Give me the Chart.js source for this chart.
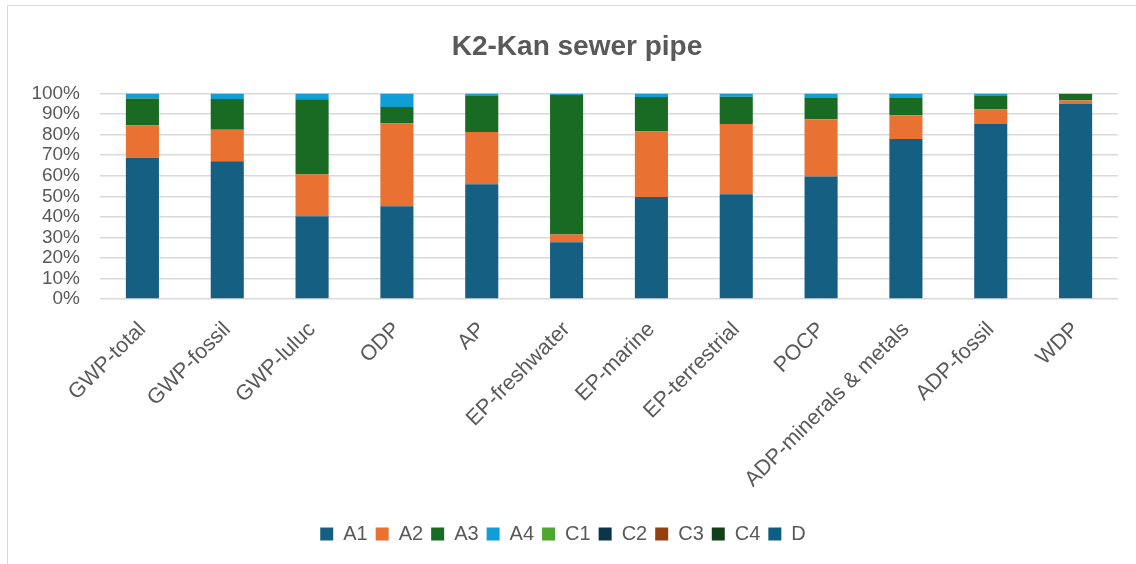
<!DOCTYPE html>
<html>
<head>
<meta charset="utf-8">
<script src="https://cdn.jsdelivr.net/npm/chart.js@4"></script>
<style>
  html, body { margin: 0; padding: 0; background: #fff; overflow: hidden; }
  #wrap { position: relative; width: 1136px; height: 564px; }
  #frame { position: absolute; left: 7px; top: 5px; width: 1200px; height: 700px;
           border: 1.5px solid #d9d9d9; box-sizing: border-box; }
  canvas { position: absolute; left: 0; top: 0; }
</style>
</head>
<body>
<div id="wrap">
  <div id="frame"></div>
  <canvas id="chart" width="1136" height="564"></canvas>
</div>
<script>
// categories and values (share of total, %)
const categories = ['GWP-total', 'GWP-fossil', 'GWP-luluc', 'ODP', 'AP', 'EP-freshwater',
  'EP-marine', 'EP-terrestrial', 'POCP', 'ADP-minerals & metals', 'ADP-fossil', 'WDP'];

const A1 = [68.8, 67.1, 40.3, 45.2, 55.9, 27.6, 49.6, 51.0, 59.7, 77.9, 85.2, 94.9];
const A2 = [15.7, 15.3, 20.3, 40.2, 25.4, 3.8, 32.0, 34.2, 27.8, 11.5, 7.1, 1.7];
const A3 = [13.1, 15.0, 36.6, 8.1, 17.5, 67.9, 16.7, 13.3, 10.4, 8.5, 6.5, 3.2];
const A4 = [2.4, 2.6, 2.8, 6.5, 1.2, 0.7, 1.7, 1.5, 2.1, 2.1, 1.2, 0.2];
const C1 = [0, 0, 0, 0, 0, 0, 0, 0, 0, 0, 0, 0];
const C2 = [0, 0, 0, 0, 0, 0, 0, 0, 0, 0, 0, 0];
const C3 = [0, 0, 0, 0, 0, 0, 0, 0, 0, 0, 0, 0];
const C4 = [0, 0, 0, 0, 0, 0, 0, 0, 0, 0, 0, 0];
const D  = [0, 0, 0, 0, 0, 0, 0, 0, 0, 0, 0, 0];

// y axis: 0% .. 100% every 10%
const yMin = 0, yMax = 100, yStep = 10;

const textColor = '#595959';
const fontFamily = '"Liberation Sans", Arial, sans-serif';

function series(label, data, color) {
  return {
    label: label,
    data: data,
    backgroundColor: color,
    borderWidth: 0,
    barPercentage: 0.39,
    categoryPercentage: 1.0
  };
}

const data = {
  labels: categories,
  datasets: [
    series('A1', A1, '#156082'),
    series('A2', A2, '#E97132'),
    series('A3', A3, '#196B24'),
    series('A4', A4, '#0F9ED5'),
    series('C1', C1, '#4EA72E'),
    series('C2', C2, '#0C354A'),
    series('C3', C3, '#983F10'),
    series('C4', C4, '#0F4016'),
    series('D', D, '#0E5E84')
  ]
};

// title sits a bit right of the legend in the original, nudge it
const titleShift = {
  id: 'titleShift',
  afterLayout: function(chart) {
    const t = chart.titleBlock;
    if (t) { t.left += 14; t.right += 14; }
  }
};

const config = {
  type: 'bar',
  data: data,
  plugins: [titleShift],
  options: {
    responsive: false,
    animation: false,
    layout: { padding: { left: 8, right: 18, top: 0, bottom: 10 } },
    plugins: {
      title: {
        display: true,
        text: 'K2-Kan sewer pipe',
        color: textColor,
        font: { family: fontFamily, size: 28, weight: 'bold' },
        padding: { top: 30, bottom: 30 }
      },
      legend: {
        position: 'bottom',
        labels: {
          color: textColor,
          font: { family: fontFamily, size: 20 },
          boxWidth: 13,
          boxHeight: 13,
          padding: 8
        }
      },
      tooltip: { enabled: false }
    },
    scales: {
      x: {
        stacked: true,
        grid: { display: false },
        border: { display: false },
        ticks: {
          color: textColor,
          font: { family: fontFamily, size: 21.5 },
          maxRotation: 45,
          minRotation: 45,
          padding: 10,
          labelOffset: 0,
          autoSkip: false
        },
        afterFit: function(scale) { scale.height = 217; }
      },
      y: {
        stacked: true,
        min: yMin,
        max: yMax,
        grid: { color: '#d9d9d9', lineWidth: 1.5, drawTicks: false },
        border: { display: false },
        ticks: {
          stepSize: yStep,
          autoSkip: false,
          color: textColor,
          font: { family: fontFamily, size: 19 },
          padding: 20,
          callback: function(v) { return v + '%'; }
        },
        afterFit: function(scale) { scale.width = 92; }
      }
    }
  }
};

const chart = new Chart(document.getElementById('chart'), config);
</script>
</body>
</html>
